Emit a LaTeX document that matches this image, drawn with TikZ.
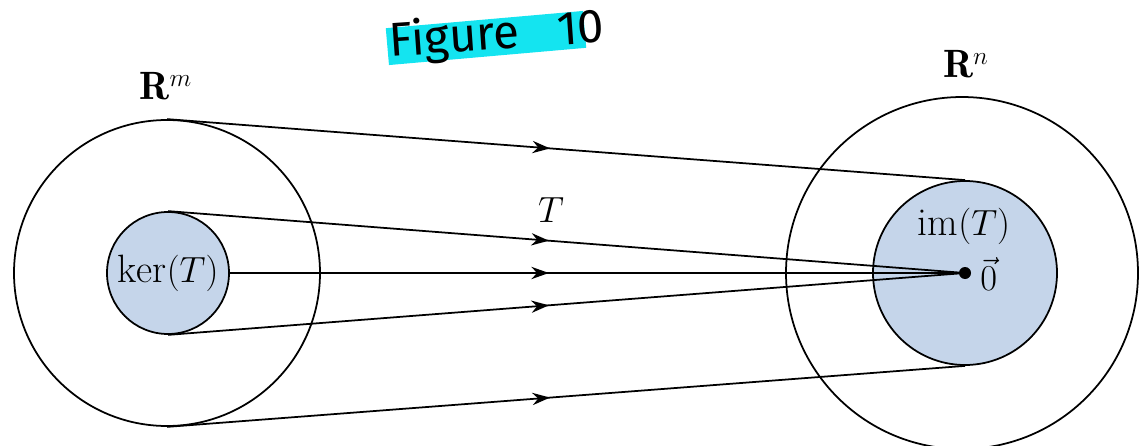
\documentclass[tikz,border=0pt]{standalone}
\usepackage{fontspec}
\newfontfamily\handfont{Fira Sans}
\usetikzlibrary{arrows.meta,decorations.markings}
\definecolor{setblue}{RGB}{197,213,234}
\definecolor{hilite}{RGB}{20,228,240}
\tikzset{
  setline/.style={draw=black, line width=1pt},
  bigset/.style={circle, setline, inner sep=0pt},
  smallset/.style={circle, setline, fill=setblue, inner sep=0pt},
  maparrow/.style={line width=1pt, postaction={decorate},
    decoration={markings, mark=at position #1 with {\arrow{Stealth[length=10pt,width=7pt]}}}},
  lbl/.style={font=\fontsize{22.5}{26}\selectfont, inner sep=0pt},
}
\begin{document}
\begin{tikzpicture}[x=0.02cm,y=-0.02cm]
\useasboundingbox (0,0) rectangle (1140,446);
\clip (0,0) rectangle (1140,446);
% highlight and title
\node[fill=hilite, rotate=5, minimum width=198*0.02cm, minimum height=37*0.02cm, inner sep=0pt] (hl) at (486,38) {};
\node[rotate=4, inner sep=0pt, font=\handfont\fontsize{27}{30}\selectfont] (title) at (497,36) {Figure\hspace{0.8em}10};
% sets
\node[bigset, minimum size=306*0.02cm] (Rm) at (167,273) {};
\node[bigset, minimum size=352*0.02cm] (Rn) at (962,273) {};
\node[smallset, minimum size=122*0.02cm] (ker) at (168,273) {};
\node[smallset, minimum size=184*0.02cm] (im) at (965,273) {};
\node[lbl] at (ker) {$\ker(T)$};
\node[lbl] (imlbl) at (964,226) {$\mathrm{im}(T)$};
\node[lbl] (Rmlbl) at (166,86) {$\mathbf{R}^{m}$};
\node[lbl] (Rnlbl) at (966,64) {$\mathbf{R}^{n}$};
\node[lbl] (Tlbl) at (551,210) {$T$};
% zero vector
\node[circle, fill=black, inner sep=0pt, minimum size=12*0.02cm] (zero) at (965,273) {};
\node[lbl, anchor=west] (zerolbl) at (980,274) {$\vec{0}$};
% maps
\draw[maparrow=0.48] (Rm.north) -- (im.north);
\draw[maparrow=0.48] (Rm.south) -- (im.south);
\draw[maparrow=0.478] (ker.north) -- (zero.center);
\draw[maparrow=0.478] (ker.south) -- (zero.center);
\draw[maparrow=0.434] (ker.east) -- (zero.center);
\end{tikzpicture}
\end{document}
